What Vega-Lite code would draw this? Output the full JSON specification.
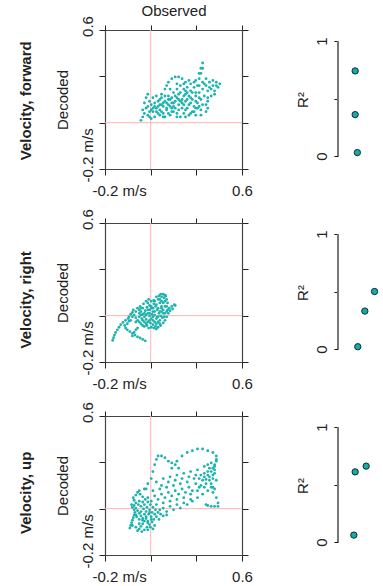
{
"$schema":"https://vega.github.io/schema/vega-lite/v6.json",
"background":"white",
"padding":{"left":19,"top":3,"right":0,"bottom":0},
"config":{
 "view":{"stroke":null},
 "font":"Liberation Sans",
 "axis":{"domainColor":"#444","domainWidth":1.2,"tickColor":"#222","tickSize":6,"tickWidth":1,"labelFont":"Liberation Sans","labelFontSize":15,"titleFont":"Liberation Sans","titleFontSize":15,"titleFontWeight":"normal","labelColor":"#222","titleColor":"#222","grid":false,"labelFlush":false,"labelOverlap":false},
 "title":{"font":"Liberation Sans","fontSize":15,"fontWeight":"bold","color":"#222"}
},
"datasets":{
 "forward":[{"observed":0.01,"decoded":0.08},{"observed":0.02,"decoded":0.10},{"observed":0.03,"decoded":0.12},{"observed":0.02,"decoded":0.14},{"observed":0.04,"decoded":0.15},{"observed":0.06,"decoded":0.13},{"observed":0.05,"decoded":0.11},{"observed":0.07,"decoded":0.09},{"observed":0.09,"decoded":0.10},{"observed":0.08,"decoded":0.13},{"observed":0.10,"decoded":0.15},{"observed":0.12,"decoded":0.17},{"observed":0.11,"decoded":0.19},{"observed":0.09,"decoded":0.18},{"observed":0.07,"decoded":0.17},{"observed":0.06,"decoded":0.19},{"observed":0.08,"decoded":0.21},{"observed":0.10,"decoded":0.22},{"observed":0.13,"decoded":0.21},{"observed":0.15,"decoded":0.19},{"observed":0.17,"decoded":0.17},{"observed":0.16,"decoded":0.14},{"observed":0.14,"decoded":0.12},{"observed":0.12,"decoded":0.11},{"observed":0.15,"decoded":0.10},{"observed":0.18,"decoded":0.11},{"observed":0.20,"decoded":0.13},{"observed":0.22,"decoded":0.12},{"observed":0.24,"decoded":0.10},{"observed":0.26,"decoded":0.12},{"observed":0.25,"decoded":0.15},{"observed":0.23,"decoded":0.17},{"observed":0.21,"decoded":0.19},{"observed":0.19,"decoded":0.21},{"observed":0.20,"decoded":0.24},{"observed":0.22,"decoded":0.26},{"observed":0.24,"decoded":0.24},{"observed":0.26,"decoded":0.22},{"observed":0.28,"decoded":0.20},{"observed":0.30,"decoded":0.18},{"observed":0.32,"decoded":0.16},{"observed":0.31,"decoded":0.13},{"observed":0.29,"decoded":0.11},{"observed":0.13,"decoded":0.23},{"observed":0.15,"decoded":0.26},{"observed":0.16,"decoded":0.28},{"observed":0.17,"decoded":0.30},{"observed":0.19,"decoded":0.32},{"observed":0.21,"decoded":0.33},{"observed":0.23,"decoded":0.33},{"observed":0.25,"decoded":0.32},{"observed":0.27,"decoded":0.30},{"observed":0.28,"decoded":0.27},{"observed":0.27,"decoded":0.25},{"observed":0.33,"decoded":0.24},{"observed":0.34,"decoded":0.28},{"observed":0.35,"decoded":0.32},{"observed":0.36,"decoded":0.35},{"observed":0.37,"decoded":0.38},{"observed":0.37,"decoded":0.41},{"observed":0.36,"decoded":0.38},{"observed":0.35,"decoded":0.35},{"observed":0.33,"decoded":0.31},{"observed":0.30,"decoded":0.25},{"observed":0.32,"decoded":0.27},{"observed":0.30,"decoded":0.29},{"observed":0.35,"decoded":0.24},{"observed":0.37,"decoded":0.26},{"observed":0.39,"decoded":0.28},{"observed":0.40,"decoded":0.25},{"observed":0.38,"decoded":0.22},{"observed":0.36,"decoded":0.20},{"observed":0.34,"decoded":0.18},{"observed":0.37,"decoded":0.17},{"observed":0.40,"decoded":0.19},{"observed":0.42,"decoded":0.22},{"observed":0.44,"decoded":0.25},{"observed":0.46,"decoded":0.27},{"observed":0.47,"decoded":0.29},{"observed":0.45,"decoded":0.30},{"observed":0.43,"decoded":0.28},{"observed":0.41,"decoded":0.30},{"observed":0.39,"decoded":0.32},{"observed":0.37,"decoded":0.30},{"observed":0.27,"decoded":0.14},{"observed":0.30,"decoded":0.12},{"observed":0.33,"decoded":0.11},{"observed":0.36,"decoded":0.11},{"observed":0.39,"decoded":0.13},{"observed":0.40,"decoded":0.15},{"observed":0.39,"decoded":0.17},{"observed":0.35,"decoded":0.16},{"observed":0.33,"decoded":0.15},{"observed":0.12,"decoded":0.14},{"observed":0.14,"decoded":0.16},{"observed":0.16,"decoded":0.18},{"observed":0.18,"decoded":0.20},{"observed":0.20,"decoded":0.18},{"observed":0.18,"decoded":0.16},{"observed":0.16,"decoded":0.15},{"observed":0.22,"decoded":0.21},{"observed":0.24,"decoded":0.19},{"observed":0.26,"decoded":0.17},{"observed":0.28,"decoded":0.15},{"observed":0.20,"decoded":0.16},{"observed":0.25,"decoded":0.20},{"observed":0.27,"decoded":0.23},{"observed":0.29,"decoded":0.22},{"observed":0.31,"decoded":0.20},{"observed":0.33,"decoded":0.19},{"observed":0.10,"decoded":0.13},{"observed":0.13,"decoded":0.13},{"observed":0.17,"decoded":0.12},{"observed":0.21,"decoded":0.15},{"observed":0.23,"decoded":0.14},{"observed":0.19,"decoded":0.18},{"observed":0.11,"decoded":0.16},{"observed":0.08,"decoded":0.15},{"observed":0.03,"decoded":0.18},{"observed":0.04,"decoded":0.21},{"observed":0.05,"decoded":0.23},{"observed":0.14,"decoded":0.18},{"observed":0.17,"decoded":0.22},{"observed":0.19,"decoded":0.15},{"observed":0.21,"decoded":0.22},{"observed":0.23,"decoded":0.20},{"observed":0.25,"decoded":0.18},{"observed":0.27,"decoded":0.19},{"observed":0.29,"decoded":0.17},{"observed":0.31,"decoded":0.24},{"observed":0.33,"decoded":0.22},{"observed":0.35,"decoded":0.21},{"observed":0.28,"decoded":0.24},{"observed":0.26,"decoded":0.26},{"observed":0.24,"decoded":0.28},{"observed":0.22,"decoded":0.29},{"observed":0.18,"decoded":0.26},{"observed":0.15,"decoded":0.22},{"observed":0.12,"decoded":0.20},{"observed":0.09,"decoded":0.16},{"observed":0.07,"decoded":0.14},{"observed":0.05,"decoded":0.16},{"observed":0.06,"decoded":0.10},{"observed":0.11,"decoded":0.12},{"observed":0.14,"decoded":0.10},{"observed":0.19,"decoded":0.13},{"observed":0.22,"decoded":0.10},{"observed":0.27,"decoded":0.10},{"observed":0.32,"decoded":0.13},{"observed":0.34,"decoded":0.15},{"observed":0.36,"decoded":0.14},{"observed":0.42,"decoded":0.26},{"observed":0.44,"decoded":0.23},{"observed":0.41,"decoded":0.27},{"observed":0.38,"decoded":0.29},{"observed":0.35,"decoded":0.28},{"observed":0.32,"decoded":0.30},{"observed":0.29,"decoded":0.31},{"observed":0.26,"decoded":0.29},{"observed":0.30,"decoded":0.21},{"observed":0.17,"decoded":0.20},{"observed":0.13,"decoded":0.17},{"observed":0.23,"decoded":0.23},{"observed":0.40,"decoded":0.21},{"observed":0.43,"decoded":0.31},{"observed":0.45,"decoded":0.28}],
 "right":[{"observed":-0.155,"decoded":-0.075},{"observed":-0.150,"decoded":-0.060},{"observed":-0.145,"decoded":-0.045},{"observed":-0.138,"decoded":-0.030},{"observed":-0.128,"decoded":-0.015},{"observed":-0.118,"decoded":0.000},{"observed":-0.108,"decoded":0.015},{"observed":-0.095,"decoded":0.028},{"observed":-0.080,"decoded":0.040},{"observed":-0.065,"decoded":0.050},{"observed":0.035,"decoded":-0.078},{"observed":0.020,"decoded":-0.070},{"observed":0.005,"decoded":-0.062},{"observed":-0.010,"decoded":-0.055},{"observed":-0.025,"decoded":-0.045},{"observed":-0.040,"decoded":-0.035},{"observed":-0.055,"decoded":-0.025},{"observed":-0.070,"decoded":-0.015},{"observed":-0.080,"decoded":-0.005},{"observed":-0.085,"decoded":0.010},{"observed":-0.040,"decoded":-0.050},{"observed":-0.030,"decoded":-0.030},{"observed":-0.020,"decoded":-0.015},{"observed":-0.010,"decoded":-0.005},{"observed":-0.060,"decoded":0.060},{"observed":-0.050,"decoded":0.075},{"observed":-0.040,"decoded":0.085},{"observed":-0.030,"decoded":0.070},{"observed":-0.020,"decoded":0.055},{"observed":-0.010,"decoded":0.040},{"observed":0.000,"decoded":0.030},{"observed":0.010,"decoded":0.020},{"observed":0.020,"decoded":0.010},{"observed":0.030,"decoded":0.005},{"observed":0.045,"decoded":0.010},{"observed":0.050,"decoded":0.030},{"observed":0.040,"decoded":0.045},{"observed":0.030,"decoded":0.060},{"observed":0.020,"decoded":0.075},{"observed":0.010,"decoded":0.090},{"observed":0.000,"decoded":0.100},{"observed":-0.010,"decoded":0.110},{"observed":0.005,"decoded":0.120},{"observed":0.020,"decoded":0.110},{"observed":0.035,"decoded":0.095},{"observed":0.050,"decoded":0.080},{"observed":0.060,"decoded":0.065},{"observed":0.070,"decoded":0.050},{"observed":0.080,"decoded":0.040},{"observed":0.090,"decoded":0.030},{"observed":0.100,"decoded":0.020},{"observed":0.110,"decoded":0.030},{"observed":0.100,"decoded":0.050},{"observed":0.090,"decoded":0.070},{"observed":0.080,"decoded":0.090},{"observed":0.070,"decoded":0.110},{"observed":0.060,"decoded":0.125},{"observed":0.050,"decoded":0.140},{"observed":0.040,"decoded":0.150},{"observed":0.055,"decoded":0.160},{"observed":0.070,"decoded":0.150},{"observed":0.085,"decoded":0.135},{"observed":0.095,"decoded":0.120},{"observed":0.105,"decoded":0.100},{"observed":0.115,"decoded":0.080},{"observed":0.125,"decoded":0.065},{"observed":0.135,"decoded":0.055},{"observed":0.145,"decoded":0.060},{"observed":0.150,"decoded":0.080},{"observed":0.140,"decoded":0.100},{"observed":0.130,"decoded":0.120},{"observed":0.120,"decoded":0.140},{"observed":0.110,"decoded":0.160},{"observed":0.100,"decoded":0.175},{"observed":0.115,"decoded":0.180},{"observed":0.130,"decoded":0.175},{"observed":0.145,"decoded":0.170},{"observed":0.155,"decoded":0.180},{"observed":0.160,"decoded":0.160},{"observed":0.165,"decoded":0.140},{"observed":0.160,"decoded":0.120},{"observed":0.165,"decoded":0.100},{"observed":0.170,"decoded":0.080},{"observed":0.160,"decoded":0.060},{"observed":0.150,"decoded":0.040},{"observed":0.140,"decoded":0.025},{"observed":0.125,"decoded":0.010},{"observed":0.110,"decoded":0.000},{"observed":0.095,"decoded":0.005},{"observed":0.080,"decoded":0.015},{"observed":0.065,"decoded":0.025},{"observed":0.030,"decoded":0.030},{"observed":0.015,"decoded":0.050},{"observed":0.060,"decoded":0.100},{"observed":0.075,"decoded":0.075},{"observed":0.045,"decoded":0.115},{"observed":0.025,"decoded":0.135},{"observed":0.085,"decoded":0.155},{"observed":0.175,"decoded":0.110},{"observed":0.190,"decoded":0.120},{"observed":0.205,"decoded":0.130},{"observed":0.210,"decoded":0.125},{"observed":0.195,"decoded":0.105},{"observed":0.180,"decoded":0.095},{"observed":0.120,"decoded":0.040},{"observed":0.105,"decoded":0.060},{"observed":0.130,"decoded":0.090},{"observed":0.070,"decoded":0.000},{"observed":0.085,"decoded":-0.005},{"observed":0.010,"decoded":0.070},{"observed":-0.020,"decoded":0.090},{"observed":-0.035,"decoded":0.100},{"observed":0.150,"decoded":0.185},{"observed":0.140,"decoded":0.190},{"observed":0.125,"decoded":0.190},{"observed":0.00,"decoded":0.06},{"observed":0.02,"decoded":0.04},{"observed":0.04,"decoded":0.02},{"observed":0.06,"decoded":0.04},{"observed":0.08,"decoded":0.06},{"observed":0.09,"decoded":0.09},{"observed":0.07,"decoded":0.12},{"observed":0.05,"decoded":0.10},{"observed":0.03,"decoded":0.08},{"observed":0.01,"decoded":0.11},{"observed":0.11,"decoded":0.11},{"observed":0.12,"decoded":0.09},{"observed":0.13,"decoded":0.11},{"observed":0.10,"decoded":0.13},{"observed":0.09,"decoded":0.15},{"observed":0.12,"decoded":0.16},{"observed":0.14,"decoded":0.14},{"observed":0.15,"decoded":0.12},{"observed":0.14,"decoded":0.08},{"observed":0.11,"decoded":0.06},{"observed":0.06,"decoded":0.08},{"observed":-0.04,"decoded":0.06},{"observed":-0.05,"decoded":0.04},{"observed":-0.02,"decoded":0.03},{"observed":0.00,"decoded":0.08},{"observed":0.04,"decoded":0.07},{"observed":0.08,"decoded":0.11},{"observed":0.13,"decoded":0.15},{"observed":0.15,"decoded":0.15},{"observed":0.16,"decoded":0.09},{"observed":-0.06,"decoded":0.035},{"observed":-0.07,"decoded":0.02},{"observed":0.055,"decoded":-0.005},{"observed":0.10,"decoded":-0.01},{"observed":0.12,"decoded":0.02}],
 "up":[{"observed":-0.055,"decoded":-0.045},{"observed":-0.050,"decoded":-0.030},{"observed":-0.045,"decoded":-0.015},{"observed":-0.040,"decoded":0.000},{"observed":-0.035,"decoded":0.015},{"observed":-0.030,"decoded":0.030},{"observed":-0.025,"decoded":0.045},{"observed":-0.030,"decoded":0.060},{"observed":-0.040,"decoded":0.075},{"observed":-0.020,"decoded":0.070},{"observed":-0.010,"decoded":0.055},{"observed":0.000,"decoded":0.040},{"observed":0.010,"decoded":0.025},{"observed":0.020,"decoded":0.010},{"observed":0.030,"decoded":-0.005},{"observed":0.020,"decoded":-0.020},{"observed":0.010,"decoded":-0.035},{"observed":0.000,"decoded":-0.050},{"observed":0.015,"decoded":-0.065},{"observed":0.030,"decoded":-0.055},{"observed":0.045,"decoded":-0.040},{"observed":0.060,"decoded":-0.025},{"observed":0.075,"decoded":-0.010},{"observed":0.085,"decoded":0.005},{"observed":0.070,"decoded":0.020},{"observed":0.055,"decoded":0.035},{"observed":0.040,"decoded":0.050},{"observed":0.025,"decoded":0.065},{"observed":0.010,"decoded":0.080},{"observed":-0.005,"decoded":0.090},{"observed":-0.020,"decoded":0.100},{"observed":-0.030,"decoded":0.115},{"observed":-0.035,"decoded":0.130},{"observed":-0.020,"decoded":0.145},{"observed":-0.010,"decoded":0.160},{"observed":0.005,"decoded":0.150},{"observed":0.020,"decoded":0.135},{"observed":0.035,"decoded":0.120},{"observed":0.050,"decoded":0.105},{"observed":0.065,"decoded":0.090},{"observed":0.080,"decoded":0.075},{"observed":0.095,"decoded":0.060},{"observed":0.110,"decoded":0.045},{"observed":0.125,"decoded":0.035},{"observed":0.140,"decoded":0.025},{"observed":0.160,"decoded":0.030},{"observed":0.080,"decoded":-0.050},{"observed":0.065,"decoded":-0.040},{"observed":0.050,"decoded":-0.015},{"observed":0.040,"decoded":0.010},{"observed":0.000,"decoded":0.005},{"observed":-0.015,"decoded":0.020},{"observed":0.060,"decoded":0.060},{"observed":0.030,"decoded":0.090},{"observed":0.100,"decoded":0.020},{"observed":0.115,"decoded":0.005},{"observed":-0.045,"decoded":0.090},{"observed":0.00,"decoded":0.17},{"observed":0.04,"decoded":0.18},{"observed":0.08,"decoded":0.17},{"observed":0.12,"decoded":0.18},{"observed":0.16,"decoded":0.19},{"observed":0.20,"decoded":0.20},{"observed":0.24,"decoded":0.21},{"observed":0.28,"decoded":0.22},{"observed":0.32,"decoded":0.24},{"observed":0.36,"decoded":0.26},{"observed":0.40,"decoded":0.28},{"observed":0.43,"decoded":0.30},{"observed":0.05,"decoded":0.13},{"observed":0.09,"decoded":0.14},{"observed":0.13,"decoded":0.15},{"observed":0.17,"decoded":0.16},{"observed":0.21,"decoded":0.17},{"observed":0.25,"decoded":0.18},{"observed":0.29,"decoded":0.19},{"observed":0.33,"decoded":0.21},{"observed":0.37,"decoded":0.23},{"observed":0.41,"decoded":0.25},{"observed":0.44,"decoded":0.27},{"observed":0.10,"decoded":0.09},{"observed":0.14,"decoded":0.10},{"observed":0.18,"decoded":0.11},{"observed":0.22,"decoded":0.12},{"observed":0.26,"decoded":0.13},{"observed":0.30,"decoded":0.15},{"observed":0.34,"decoded":0.17},{"observed":0.38,"decoded":0.19},{"observed":0.42,"decoded":0.21},{"observed":0.45,"decoded":0.23},{"observed":0.16,"decoded":0.05},{"observed":0.20,"decoded":0.06},{"observed":0.24,"decoded":0.07},{"observed":0.28,"decoded":0.09},{"observed":0.31,"decoded":0.11},{"observed":0.34,"decoded":0.13},{"observed":0.37,"decoded":0.15},{"observed":0.40,"decoded":0.17},{"observed":0.43,"decoded":0.19},{"observed":0.10,"decoded":0.22},{"observed":0.14,"decoded":0.24},{"observed":0.18,"decoded":0.25},{"observed":0.22,"decoded":0.26},{"observed":0.26,"decoded":0.27},{"observed":0.30,"decoded":0.28},{"observed":0.34,"decoded":0.29},{"observed":0.38,"decoded":0.31},{"observed":0.42,"decoded":0.33},{"observed":0.45,"decoded":0.34},{"observed":0.03,"decoded":0.18},{"observed":0.05,"decoded":0.21},{"observed":0.07,"decoded":0.24},{"observed":0.08,"decoded":0.28},{"observed":0.09,"decoded":0.32},{"observed":0.10,"decoded":0.35},{"observed":0.11,"decoded":0.37},{"observed":0.13,"decoded":0.37},{"observed":0.15,"decoded":0.36},{"observed":0.17,"decoded":0.34},{"observed":0.19,"decoded":0.33},{"observed":0.21,"decoded":0.32},{"observed":0.23,"decoded":0.30},{"observed":0.19,"decoded":0.30},{"observed":0.22,"decoded":0.34},{"observed":0.25,"decoded":0.37},{"observed":0.28,"decoded":0.39},{"observed":0.31,"decoded":0.40},{"observed":0.34,"decoded":0.41},{"observed":0.37,"decoded":0.41},{"observed":0.40,"decoded":0.40},{"observed":0.43,"decoded":0.39},{"observed":0.45,"decoded":0.37},{"observed":0.45,"decoded":0.35},{"observed":0.44,"decoded":0.32},{"observed":0.38,"decoded":0.27},{"observed":0.40,"decoded":0.26},{"observed":0.42,"decoded":0.28},{"observed":0.44,"decoded":0.29},{"observed":0.41,"decoded":0.23},{"observed":0.43,"decoded":0.24},{"observed":0.39,"decoded":0.21},{"observed":0.36,"decoded":0.20},{"observed":0.35,"decoded":0.24},{"observed":0.38,"decoded":0.25},{"observed":0.43,"decoded":0.16},{"observed":0.45,"decoded":0.13},{"observed":0.46,"decoded":0.10},{"observed":0.46,"decoded":0.08},{"observed":0.44,"decoded":0.08},{"observed":0.42,"decoded":0.08},{"observed":0.40,"decoded":0.085},{"observed":0.39,"decoded":0.09},{"observed":0.44,"decoded":0.18},{"observed":0.42,"decoded":0.19},{"observed":-0.04,"decoded":-0.03},{"observed":-0.02,"decoded":-0.04},{"observed":0.00,"decoded":-0.02},{"observed":0.02,"decoded":0.00},{"observed":0.04,"decoded":0.02},{"observed":0.05,"decoded":-0.005},{"observed":0.07,"decoded":0.005},{"observed":0.09,"decoded":0.035},{"observed":0.06,"decoded":0.045},{"observed":0.03,"decoded":0.035},{"observed":0.01,"decoded":0.05},{"observed":-0.02,"decoded":0.03},{"observed":-0.03,"decoded":0.085},{"observed":0.00,"decoded":0.11},{"observed":0.02,"decoded":0.105},{"observed":0.045,"decoded":0.075},{"observed":0.075,"decoded":0.045},{"observed":0.12,"decoded":0.06},{"observed":0.14,"decoded":0.07},{"observed":0.18,"decoded":0.08},{"observed":0.22,"decoded":0.09},{"observed":0.26,"decoded":0.10},{"observed":0.30,"decoded":0.12},{"observed":0.07,"decoded":0.11},{"observed":0.11,"decoded":0.12},{"observed":0.15,"decoded":0.13},{"observed":0.19,"decoded":0.14},{"observed":0.23,"decoded":0.15},{"observed":0.27,"decoded":0.16},{"observed":0.31,"decoded":0.17},{"observed":0.35,"decoded":0.19},{"observed":0.39,"decoded":0.235},{"observed":0.33,"decoded":0.26},{"observed":0.29,"decoded":0.25},{"observed":0.25,"decoded":0.24},{"observed":0.21,"decoded":0.23},{"observed":0.17,"decoded":0.22},{"observed":0.13,"decoded":0.20},{"observed":0.41,"decoded":0.30},{"observed":0.44,"decoded":0.31},{"observed":0.43,"decoded":0.26},{"observed":0.40,"decoded":0.32},{"observed":0.05,"decoded":-0.055},{"observed":-0.01,"decoded":-0.06},{"observed":0.09,"decoded":-0.03}],
 "r2forward":[{"jitter":0.39,"r2":0.74},{"jitter":0.39,"r2":0.36},{"jitter":0.44,"r2":0.03}],
 "r2right":[{"jitter":0.83,"r2":0.50},{"jitter":0.61,"r2":0.33},{"jitter":0.45,"r2":0.02}],
 "r2up":[{"jitter":0.64,"r2":0.66},{"jitter":0.39,"r2":0.61},{"jitter":0.36,"r2":0.06}],
 "zero":[{"ref":0.0667}],
 "span":[{"lo":0,"hi":1}]
},
"spacing":10,
"vconcat":[
 {"title":{"text":"Velocity, forward","orient":"left","anchor":"middle","offset":21},
  "spacing":42,
  "hconcat":[
   {"width":137,"height":139,
    "resolve":{"axis":{"x":"independent","y":"independent"}},
    "layer":[
     {"data":{"name":"zero"},"mark":{"type":"rule","color":"#ffb3b3","strokeWidth":1},
      "encoding":{"x":{"field":"ref","type":"quantitative","scale":{"domain":[-0.2,0.6],"nice":false,"zero":false},
        "axis":{"orient":"top","values":[-0.2,0.0667,0.3333,0.6],"labels":false,"tickSize":5,"title":"Observed","titlePadding":6}}}},
     {"data":{"name":"zero"},"mark":{"type":"rule","color":"#ffb3b3","strokeWidth":1},
      "encoding":{"y":{"field":"ref","type":"quantitative","scale":{"domain":[-0.2,0.6],"nice":false,"zero":false},
        "axis":{"orient":"right","values":[-0.2,0.0667,0.3333,0.6],"labels":false,"tickSize":6,"title":null}}}},
     {"data":{"name":"forward"},"mark":{"type":"circle","size":8,"color":"#1bb3ae","opacity":1},
      "encoding":{
       "x":{"field":"observed","type":"quantitative","axis":{"orient":"bottom","values":[-0.2,0.0667,0.3333,0.6],"title":null,"labelPadding":8,
         "labelExpr":"datum.value < -0.19 ? '-0.2 m/s' : (datum.value > 0.59 ? '0.6' : '')",
         "labelAlign":{"condition":{"test":"datum.value < -0.19","value":"left"},"value":"center"},
         "labelOffset":{"condition":{"test":"datum.value < -0.19","value":-13},"value":0}}},
       "y":{"field":"decoded","type":"quantitative","axis":{"orient":"left","values":[-0.2,0.0667,0.3333,0.6],"title":"Decoded","titlePadding":10,"labelPadding":4,"labelAngle":-90,"labelBaseline":"bottom",
         "labelExpr":"datum.value < -0.19 ? '-0.2 m/s' : (datum.value > 0.59 ? '0.6' : '')",
         "labelAlign":{"condition":{"test":"datum.value < -0.19","value":"left"},"value":"center"},
         "labelOffset":{"condition":{"test":"datum.value < -0.19","value":13},"value":-4}}}}}
    ]},
   {"width":44,"height":139,
    "layer":[
     {"data":{"name":"span"},"mark":{"type":"rule","color":"#777","strokeWidth":2},
      "encoding":{"x":{"datum":0,"type":"quantitative","scale":{"domain":[0,1]},"axis":null},
       "y":{"field":"lo","type":"quantitative","scale":{"domain":[-0.113,1.096],"nice":false,"zero":false},
        "axis":{"orient":"left","domain":false,"values":[0,0.25,0.5,0.75,1],"tickSize":4,"tickColor":"#111","labelAngle":-90,"labelBaseline":"bottom","labelAlign":"center","labelPadding":5,
         "labelExpr":"datum.value == 0 ? '0' : (datum.value == 1 ? '1' : '')","title":"R²","titlePadding":4}},
       "y2":{"field":"hi"}}},
     {"data":{"name":"r2forward"},"mark":{"type":"circle","size":40,"fill":"#17aaa6","stroke":"#0b2f2f","strokeWidth":1,"opacity":1},
      "encoding":{"x":{"field":"jitter","type":"quantitative"},"y":{"field":"r2","type":"quantitative"}}}
    ]}
  ]},
 {"title":{"text":"Velocity, right","orient":"left","anchor":"middle","offset":21},
  "spacing":42,
  "hconcat":[
   {"width":137,"height":139,
    "resolve":{"axis":{"x":"independent","y":"independent"}},
    "layer":[
     {"data":{"name":"zero"},"mark":{"type":"rule","color":"#ffb3b3","strokeWidth":1},
      "encoding":{"x":{"field":"ref","type":"quantitative","scale":{"domain":[-0.2,0.6],"nice":false,"zero":false},
        "axis":{"orient":"top","values":[-0.2,0.0667,0.3333,0.6],"labels":false,"tickSize":5,"title":null}}}},
     {"data":{"name":"zero"},"mark":{"type":"rule","color":"#ffb3b3","strokeWidth":1},
      "encoding":{"y":{"field":"ref","type":"quantitative","scale":{"domain":[-0.2,0.6],"nice":false,"zero":false},
        "axis":{"orient":"right","values":[-0.2,0.0667,0.3333,0.6],"labels":false,"tickSize":6,"title":null}}}},
     {"data":{"name":"right"},"mark":{"type":"circle","size":8,"color":"#1bb3ae","opacity":1},
      "encoding":{
       "x":{"field":"observed","type":"quantitative","axis":{"orient":"bottom","values":[-0.2,0.0667,0.3333,0.6],"title":null,"labelPadding":8,
         "labelExpr":"datum.value < -0.19 ? '-0.2 m/s' : (datum.value > 0.59 ? '0.6' : '')",
         "labelAlign":{"condition":{"test":"datum.value < -0.19","value":"left"},"value":"center"},
         "labelOffset":{"condition":{"test":"datum.value < -0.19","value":-13},"value":0}}},
       "y":{"field":"decoded","type":"quantitative","axis":{"orient":"left","values":[-0.2,0.0667,0.3333,0.6],"title":"Decoded","titlePadding":10,"labelPadding":4,"labelAngle":-90,"labelBaseline":"bottom",
         "labelExpr":"datum.value < -0.19 ? '-0.2 m/s' : (datum.value > 0.59 ? '0.6' : '')",
         "labelAlign":{"condition":{"test":"datum.value < -0.19","value":"left"},"value":"center"},
         "labelOffset":{"condition":{"test":"datum.value < -0.19","value":13},"value":-4}}}}}
    ]},
   {"width":44,"height":139,
    "layer":[
     {"data":{"name":"span"},"mark":{"type":"rule","color":"#777","strokeWidth":2},
      "encoding":{"x":{"datum":0,"type":"quantitative","scale":{"domain":[0,1]},"axis":null},
       "y":{"field":"lo","type":"quantitative","scale":{"domain":[-0.113,1.096],"nice":false,"zero":false},
        "axis":{"orient":"left","domain":false,"values":[0,0.25,0.5,0.75,1],"tickSize":4,"tickColor":"#111","labelAngle":-90,"labelBaseline":"bottom","labelAlign":"center","labelPadding":5,
         "labelExpr":"datum.value == 0 ? '0' : (datum.value == 1 ? '1' : '')","title":"R²","titlePadding":4}},
       "y2":{"field":"hi"}}},
     {"data":{"name":"r2right"},"mark":{"type":"circle","size":40,"fill":"#17aaa6","stroke":"#0b2f2f","strokeWidth":1,"opacity":1},
      "encoding":{"x":{"field":"jitter","type":"quantitative"},"y":{"field":"r2","type":"quantitative"}}}
    ]}
  ]},
 {"title":{"text":"Velocity, up","orient":"left","anchor":"middle","offset":21},
  "spacing":42,
  "hconcat":[
   {"width":137,"height":139,
    "resolve":{"axis":{"x":"independent","y":"independent"}},
    "layer":[
     {"data":{"name":"zero"},"mark":{"type":"rule","color":"#ffb3b3","strokeWidth":1},
      "encoding":{"x":{"field":"ref","type":"quantitative","scale":{"domain":[-0.2,0.6],"nice":false,"zero":false},
        "axis":{"orient":"top","values":[-0.2,0.0667,0.3333,0.6],"labels":false,"tickSize":5,"title":null}}}},
     {"data":{"name":"zero"},"mark":{"type":"rule","color":"#ffb3b3","strokeWidth":1},
      "encoding":{"y":{"field":"ref","type":"quantitative","scale":{"domain":[-0.2,0.6],"nice":false,"zero":false},
        "axis":{"orient":"right","values":[-0.2,0.0667,0.3333,0.6],"labels":false,"tickSize":6,"title":null}}}},
     {"data":{"name":"up"},"mark":{"type":"circle","size":8,"color":"#1bb3ae","opacity":1},
      "encoding":{
       "x":{"field":"observed","type":"quantitative","axis":{"orient":"bottom","values":[-0.2,0.0667,0.3333,0.6],"title":null,"labelPadding":8,
         "labelExpr":"datum.value < -0.19 ? '-0.2 m/s' : (datum.value > 0.59 ? '0.6' : '')",
         "labelAlign":{"condition":{"test":"datum.value < -0.19","value":"left"},"value":"center"},
         "labelOffset":{"condition":{"test":"datum.value < -0.19","value":-13},"value":0}}},
       "y":{"field":"decoded","type":"quantitative","axis":{"orient":"left","values":[-0.2,0.0667,0.3333,0.6],"title":"Decoded","titlePadding":10,"labelPadding":4,"labelAngle":-90,"labelBaseline":"bottom",
         "labelExpr":"datum.value < -0.19 ? '-0.2 m/s' : (datum.value > 0.59 ? '0.6' : '')",
         "labelAlign":{"condition":{"test":"datum.value < -0.19","value":"left"},"value":"center"},
         "labelOffset":{"condition":{"test":"datum.value < -0.19","value":13},"value":-4}}}}}
    ]},
   {"width":44,"height":139,
    "layer":[
     {"data":{"name":"span"},"mark":{"type":"rule","color":"#777","strokeWidth":2},
      "encoding":{"x":{"datum":0,"type":"quantitative","scale":{"domain":[0,1]},"axis":null},
       "y":{"field":"lo","type":"quantitative","scale":{"domain":[-0.113,1.096],"nice":false,"zero":false},
        "axis":{"orient":"left","domain":false,"values":[0,0.25,0.5,0.75,1],"tickSize":4,"tickColor":"#111","labelAngle":-90,"labelBaseline":"bottom","labelAlign":"center","labelPadding":5,
         "labelExpr":"datum.value == 0 ? '0' : (datum.value == 1 ? '1' : '')","title":"R²","titlePadding":4}},
       "y2":{"field":"hi"}}},
     {"data":{"name":"r2up"},"mark":{"type":"circle","size":40,"fill":"#17aaa6","stroke":"#0b2f2f","strokeWidth":1,"opacity":1},
      "encoding":{"x":{"field":"jitter","type":"quantitative"},"y":{"field":"r2","type":"quantitative"}}}
    ]}
  ]}
]
}
